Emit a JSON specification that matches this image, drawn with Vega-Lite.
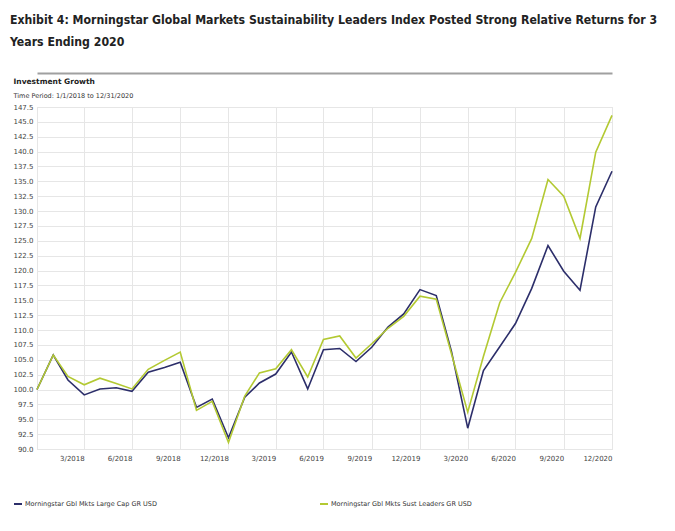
{
  "$schema": "https://vega.github.io/schema/vega-lite/v6.json",
  "width": 575,
  "height": 342,
  "autosize": {"type": "none"},
  "padding": {"left": 37, "top": 107, "right": 63, "bottom": 82},
  "background": "white",
  "title": {
    "text": ["Exhibit 4: Morningstar Global Markets Sustainability Leaders Index Posted Strong Relative Returns for 3", "Years Ending 2020"],
    "anchor": "start",
    "frame": "group",
    "dx": -27,
    "offset": 25,
    "font": "DejaVu Sans Condensed, Liberation Sans",
    "fontSize": 12.2,
    "fontWeight": "bold",
    "color": "#222222",
    "lineHeight": 22
  },
  "datasets": {
    "growth": [
      {"date": "2017-12-31", "LC": 100.0, "SL": 100.0},
      {"date": "2018-01-31", "LC": 105.8, "SL": 105.8},
      {"date": "2018-02-28", "LC": 101.6, "SL": 102.2},
      {"date": "2018-03-31", "LC": 99.1, "SL": 100.8},
      {"date": "2018-04-30", "LC": 100.1, "SL": 101.9},
      {"date": "2018-05-31", "LC": 100.3, "SL": 101.0},
      {"date": "2018-06-30", "LC": 99.7, "SL": 100.1},
      {"date": "2018-07-31", "LC": 102.9, "SL": 103.4},
      {"date": "2018-08-31", "LC": 103.7, "SL": 104.9},
      {"date": "2018-09-30", "LC": 104.6, "SL": 106.3},
      {"date": "2018-10-31", "LC": 97.0, "SL": 96.5},
      {"date": "2018-11-30", "LC": 98.4, "SL": 98.0},
      {"date": "2018-12-31", "LC": 91.9, "SL": 91.1},
      {"date": "2019-01-31", "LC": 98.7, "SL": 98.9},
      {"date": "2019-02-28", "LC": 101.1, "SL": 102.8},
      {"date": "2019-03-31", "LC": 102.6, "SL": 103.5},
      {"date": "2019-04-30", "LC": 106.3, "SL": 106.7},
      {"date": "2019-05-31", "LC": 100.1, "SL": 102.1},
      {"date": "2019-06-30", "LC": 106.7, "SL": 108.4},
      {"date": "2019-07-31", "LC": 106.9, "SL": 109.0},
      {"date": "2019-08-31", "LC": 104.7, "SL": 105.3},
      {"date": "2019-09-30", "LC": 107.1, "SL": 107.7},
      {"date": "2019-10-31", "LC": 110.5, "SL": 110.3},
      {"date": "2019-11-30", "LC": 112.7, "SL": 112.3},
      {"date": "2019-12-31", "LC": 116.8, "SL": 115.7},
      {"date": "2020-01-31", "LC": 115.8, "SL": 115.2},
      {"date": "2020-02-29", "LC": 106.4, "SL": 106.0},
      {"date": "2020-03-31", "LC": 93.5, "SL": 96.2},
      {"date": "2020-04-30", "LC": 103.2, "SL": 105.6},
      {"date": "2020-05-31", "LC": 107.2, "SL": 114.6},
      {"date": "2020-06-30", "LC": 111.1, "SL": 119.7},
      {"date": "2020-07-31", "LC": 117.0, "SL": 125.4},
      {"date": "2020-08-31", "LC": 124.2, "SL": 135.3},
      {"date": "2020-09-30", "LC": 119.9, "SL": 132.5},
      {"date": "2020-10-31", "LC": 116.7, "SL": 125.4},
      {"date": "2020-11-30", "LC": 130.7, "SL": 139.9},
      {"date": "2020-12-31", "LC": 136.7, "SL": 146.1}
    ]
  },
  "data": {"name": "growth"},
  "transform": [
    {"fold": ["LC", "SL"], "as": ["key", "value"]},
    {"lookup": "key", "from": {"data": {"values": [
      {"key": "LC", "series": "Morningstar Gbl Mkts Large Cap GR USD"},
      {"key": "SL", "series": "Morningstar Gbl Mkts Sust Leaders GR USD"}
    ]}, "key": "key", "fields": ["series"]}}
  ],
  "encoding": {
    "y": {
      "field": "value",
      "type": "quantitative",
      "scale": {"domain": [90, 147.5], "nice": false, "zero": false},
      "axis": {
        "values": [90, 92.5, 95, 97.5, 100, 102.5, 105, 107.5, 110, 112.5, 115, 117.5, 120, 122.5, 125, 127.5, 130, 132.5, 135, 137.5, 140, 142.5, 145, 147.5],
        "format": ".1f",
        "labelOverlap": false,
        "labelFontSize": 7,
        "labelFont": "DejaVu Sans",
        "labelColor": "#444444",
        "labelPadding": 4,
        "ticks": false,
        "domain": false,
        "grid": true,
        "gridColor": "#e6e6e6",
        "title": "Time Period: 1/1/2018 to 12/31/2020",
        "titleAngle": 0,
        "titleAlign": "left",
        "titleBaseline": "middle",
        "titleX": -24,
        "titleY": -12,
        "titleFont": "DejaVu Sans",
        "titleFontSize": 6.5,
        "titleFontWeight": "normal",
        "titleColor": "#333333"
      }
    }
  },
  "layer": [
    {
      "mark": {"type": "line", "strokeWidth": 1.6},
      "encoding": {
        "x": {
          "field": "date",
          "type": "temporal",
          "scale": {"type": "utc", "domain": [{"year": 2017, "month": 12, "date": 31, "utc": true}, {"year": 2020, "month": 12, "date": 31, "utc": true}]},
          "axis": {
            "values": [
              {"year": 2017, "month": 12, "date": 31, "utc": true},
              {"year": 2018, "month": 3, "date": 31, "utc": true},
              {"year": 2018, "month": 6, "date": 30, "utc": true},
              {"year": 2018, "month": 9, "date": 30, "utc": true},
              {"year": 2018, "month": 12, "date": 31, "utc": true},
              {"year": 2019, "month": 3, "date": 31, "utc": true},
              {"year": 2019, "month": 6, "date": 30, "utc": true},
              {"year": 2019, "month": 9, "date": 30, "utc": true},
              {"year": 2019, "month": 12, "date": 31, "utc": true},
              {"year": 2020, "month": 3, "date": 31, "utc": true},
              {"year": 2020, "month": 6, "date": 30, "utc": true},
              {"year": 2020, "month": 9, "date": 30, "utc": true},
              {"year": 2020, "month": 12, "date": 31, "utc": true}
            ],
            "labelExpr": "utcyear(datum.value) < 2018 ? '' : utcFormat(datum.value, '%-m/%Y')",
            "labelAlign": "right",
            "labelPadding": 5,
            "labelFontSize": 7,
            "labelFont": "DejaVu Sans",
            "labelColor": "#444444",
            "labelFlush": false,
            "labelOverlap": false,
            "ticks": false,
            "domain": false,
            "grid": true,
            "gridColor": "#e6e6e6",
            "title": null
          }
        },
        "color": {
          "field": "series",
          "type": "nominal",
          "scale": {"domain": ["Morningstar Gbl Mkts Large Cap GR USD", "Morningstar Gbl Mkts Sust Leaders GR USD"], "range": ["#2c2e6a", "#b3c932"]},
          "legend": {
            "orient": "none",
            "legendX": -24,
            "legendY": 392,
            "direction": "horizontal",
            "title": null,
            "symbolType": "stroke",
            "symbolStrokeWidth": 2,
            "symbolSize": 64,
            "labelFont": "DejaVu Sans",
            "labelFontSize": 6.5,
            "labelColor": "#333333",
            "labelOffset": 2,
            "labelLimit": 300,
            "columnPadding": 159
          }
        }
      }
    },
    {
      "mark": {"type": "line", "opacity": 0},
      "encoding": {
        "x": {
          "field": "date",
          "type": "temporal",
          "scale": {"type": "utc", "domain": [{"year": 2017, "month": 12, "date": 31, "utc": true}, {"year": 2020, "month": 12, "date": 31, "utc": true}]},
          "axis": {
            "orient": "top",
            "offset": 34,
            "domain": true,
            "domainColor": "#a0a0a0",
            "domainWidth": 2,
            "labels": false,
            "ticks": false,
            "grid": false,
            "title": "Investment Growth",
            "titleX": -24,
            "titleY": 8,
            "titleAlign": "left",
            "titleBaseline": "middle",
            "titleFont": "DejaVu Sans",
            "titleFontSize": 7.5,
            "titleFontWeight": "bold",
            "titleColor": "#222222"
          }
        },
        "detail": {"field": "series", "type": "nominal"}
      }
    }
  ],
  "resolve": {"scale": {"x": "independent"}, "axis": {"x": "independent"}}
}
